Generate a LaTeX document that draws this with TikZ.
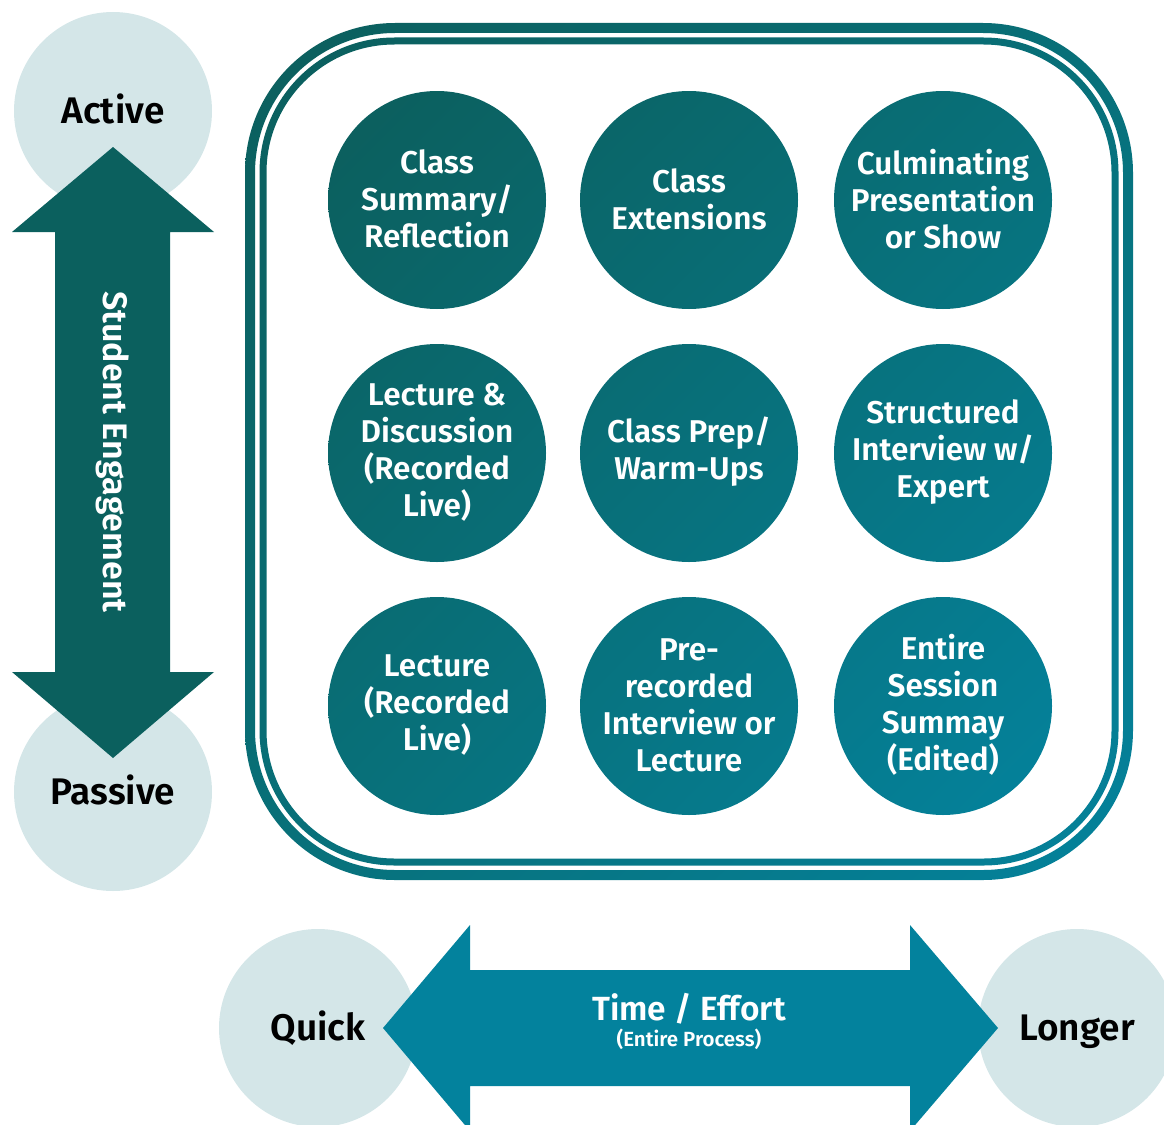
\documentclass[tikz,border=0pt]{standalone}
\usepackage{fontspec}
\usetikzlibrary{shadings}
\setmainfont{Fira Sans}[BoldFont={Fira Sans SemiBold}]
\definecolor{tealA}{HTML}{0C5E5C}
\definecolor{tealB}{HTML}{04829C}
\definecolor{tealM}{HTML}{087079}
\definecolor{vArrow}{HTML}{0B605E}
\definecolor{hArrow}{HTML}{03829D}
\definecolor{paleC}{HTML}{D4E6E8}
\tikzset{
  pale/.style={circle, fill=paleC, minimum size=198pt, inner sep=0pt, text=black,
    text height=25.5pt, text depth=0pt,
    font=\fontsize{37}{42}\selectfont\bfseries},
  topic/.style={circle, minimum size=218pt, inner sep=0pt, align=center, text=white,
    font=\fontsize{31.5}{37}\selectfont\bfseries},
  grad/.style={upper left=tealA, lower right=tealB, upper right=tealM, lower left=tealM},
  arrowlbl/.style={text=white, font=\fontsize{34}{40}\selectfont\bfseries},
}
\begin{document}
\begin{tikzpicture}[x=1pt,y=-1pt]
\useasboundingbox (0,0) rectangle (1164,1124);
% pale end circles
\node[pale] (active)  at (113,111)  {Active};
\node[pale] (passive) at (113,792)  {Passive};
\node[pale] (quick)   at (318,1028) {Quick};
\node[pale] (longer)  at (1077,1028){Longer};
% vertical double arrow
\fill[vArrow] (113,147) -- (214,232) -- (170,232) -- (170,672) -- (214,672)
  -- (113,758) -- (12,672) -- (55,672) -- (55,232) -- (12,232) -- cycle;
\node[arrowlbl, rotate=-90] (engage) at (113,452) {Student Engagement};
% horizontal double arrow
\fill[hArrow] (383,1028) -- (470,925) -- (470,970) -- (910,970) -- (910,925)
  -- (998,1028) -- (910,1131) -- (910,1086) -- (470,1086) -- (470,1131) -- cycle;
\node[arrowlbl, font=\fontsize{33.5}{38}\selectfont\bfseries] (time) at (689,1009) {Time / Effort};
\node[text=white, font=\fontsize{20.5}{24}\selectfont\bfseries] (proc) at (689,1039) {(Entire Process)};
% double rounded frame
\shade[grad, even odd rule]
  [rounded corners=150pt] (245,23) rectangle (1133,880)
  [rounded corners=140pt] (255,33) rectangle (1123,870)
  [rounded corners=135pt] (259.5,37.5) rectangle (1118.5,865.5)
  [rounded corners=128pt] (266.5,44.5) rectangle (1111.5,858.5);
% topic circles
\shade[grad]
  (437,200) circle[radius=109pt] (689,200) circle[radius=109pt] (943,200) circle[radius=109pt]
  (437,453) circle[radius=109pt] (689,453) circle[radius=109pt] (943,453) circle[radius=109pt]
  (437,706) circle[radius=109pt] (689,706) circle[radius=109pt] (943,706) circle[radius=109pt];
\node[topic] (c11) at (437,199) {Class\\Summary/\\Reflection};
\node[topic] (c12) at (689,199) {Class\\Extensions};
\node[topic] (c13) at (943,199) {Culminating\\Presentation\\or Show};
\node[topic] (c21) at (437,452) {Lecture \&\\Discussion\\(Recorded\\Live)};
\node[topic] (c22) at (689,452) {Class Prep/\\Warm-Ups};
\node[topic] (c23) at (943,452) {Structured\\Interview w/\\Expert};
\node[topic] (c31) at (437,705) {Lecture\\(Recorded\\Live)};
\node[topic] (c32) at (689,705) {Pre-\\recorded\\Interview or\\Lecture};
\node[topic] (c33) at (943,705) {Entire\\Session\\Summay\\(Edited)};
\end{tikzpicture}
\end{document}
